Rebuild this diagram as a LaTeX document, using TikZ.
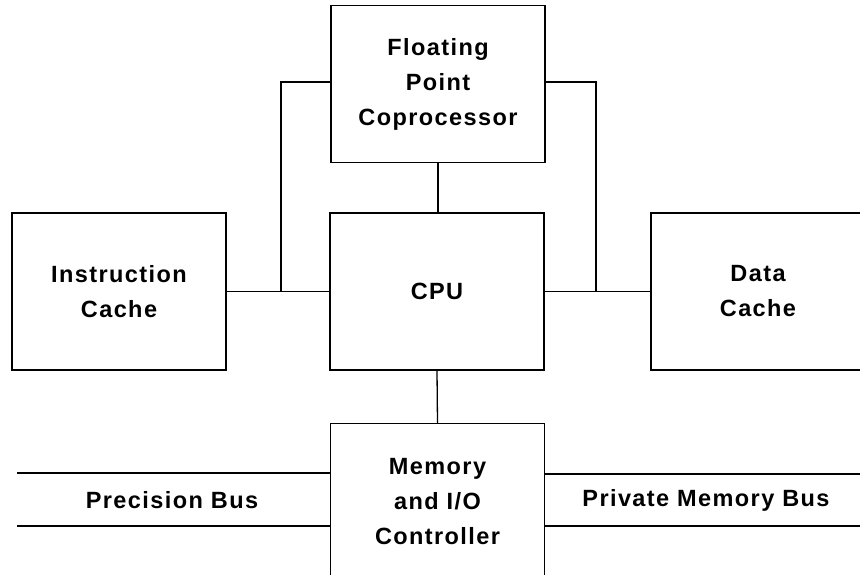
\documentclass[tikz,border=0pt]{standalone}
\usepackage{fontspec}
\newfontfamily\labelfont[LetterSpace=6]{Liberation Sans}
\usetikzlibrary{calc}
\begin{document}
\begin{tikzpicture}[x=1pt,y=-1pt,
  unit/.style={draw, line width=1.3pt, minimum width=214pt, minimum height=157pt,
    align=center, inner sep=0pt, font=\labelfont\bfseries\fontsize{23.5}{35}\selectfont},
  lbl/.style={align=center, inner sep=0pt, font=\labelfont\bfseries\fontsize{23.5}{35}\selectfont},
  wire/.style={line width=1.3pt}]
\useasboundingbox (0,0) rectangle (860,575);
\clip (0,0) rectangle (860,575);
\fill[white] (0,0) rectangle (860,575);

% functional units
\node[unit] (fp)  at (438,84)    {Floating\\Point\\Coprocessor};
\node[unit] (cpu) at (437,291.5) {CPU};
\node[unit] (ic)  at (119,291.5) {Instruction\\Cache};
\node[unit] (dc)  at (758,291.5) {Data\\Cache};
\node[unit] (mem) at (437.5,502) {Memory\\and I/O\\Controller};

% junctions feeding the coprocessor
\coordinate (jl) at (281,291.5);
\coordinate (jr) at (596,291.5);

% cache and coprocessor connections
\draw[wire] (ic.east) -- (cpu.west);
\draw[wire] (cpu.east) -- (dc.west);
\draw[wire] (jl) |- ($(fp.west)+(0,-2)$);
\draw[wire] (jr) |- ($(fp.east)+(0,-2)$);
\draw[wire] (fp.south) -- (fp.south |- cpu.north);
\draw[wire] (cpu.south) -- (mem.north);

% buses
\coordinate (pb1) at (17,473);
\coordinate (pb2) at (17,526);
\coordinate (pm1) at (860,474);
\coordinate (pm2) at (860,526);
\draw[wire] (pb1) -- (pb1 -| mem.west);
\draw[wire] (pb2) -- (pb2 -| mem.west);
\draw[wire] (mem.east |- pm1) -- (pm1);
\draw[wire] (mem.east |- pm2) -- (pm2);

\node[lbl] (pbl) at (172,500) {Precision Bus};
\node[lbl] (pml) at (706,500) {Private Memory Bus};
\end{tikzpicture}
\end{document}
